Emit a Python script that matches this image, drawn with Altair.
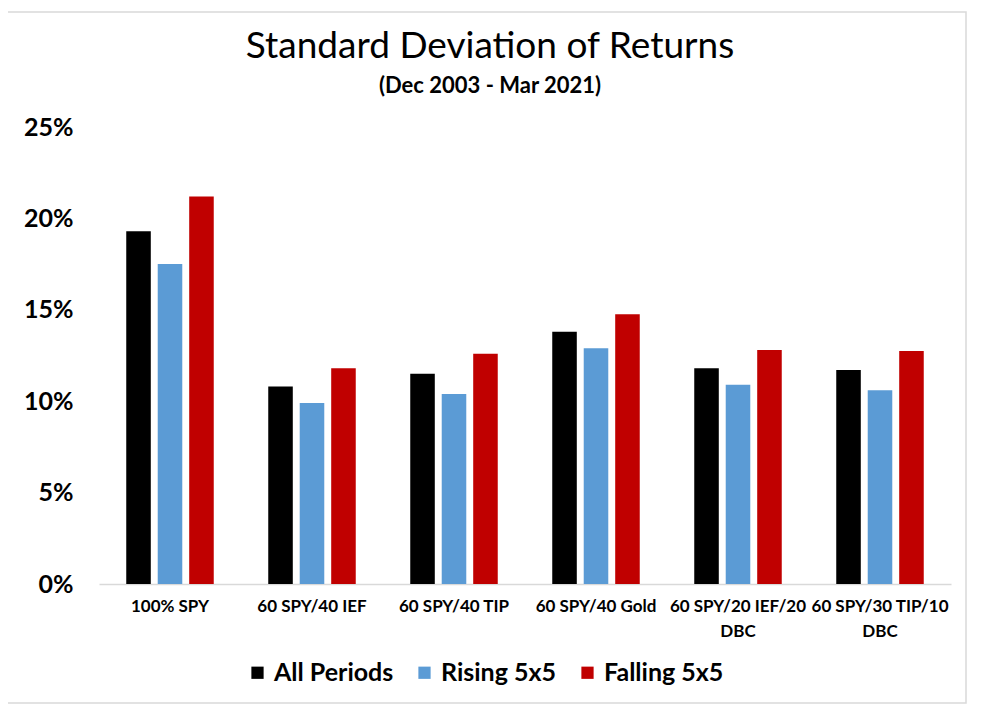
import altair as alt
import pandas as pd

categories = ["100% SPY", "60 SPY/40 IEF", "60 SPY/40 TIP", "60 SPY/40 Gold",
              "60 SPY/20 IEF/20 DBC", "60 SPY/30 TIP/10 DBC"]
series = ["All Periods", "Rising 5x5", "Falling 5x5"]
all_periods = [19.3, 10.8, 11.5, 13.8, 11.8, 11.7]
rising = [17.5, 9.9, 10.4, 12.9, 10.9, 10.6]
falling = [21.2, 11.8, 12.6, 14.75, 12.8, 12.75]
colors = ["#000000", "#5B9BD5", "#C00000"]
y_ticks = [0, 5, 10, 15, 20, 25]

rows = []
for name, vals in zip(series, [all_periods, rising, falling]):
    for c, v in zip(categories, vals):
        rows.append({"category": c, "series": name, "value": v})
df = pd.DataFrame(rows)

FONT = "Lato"

bars = alt.Chart(df).mark_bar().encode(
    x=alt.X("category:N", sort=categories,
            scale=alt.Scale(paddingInner=0.335, paddingOuter=0.1675),
            axis=alt.Axis(title=None, labelAngle=0, ticks=False, domain=True,
                          domainColor="#D9D9D9", domainWidth=1.5,
                          labelPadding=14, labelFontSize=17, labelFontWeight="bold",
                          labelFont=FONT, labelColor="#000000", labelLineHeight=25,
                          labelLimit=200,
                          labelExpr="indexof(datum.label, '/20 DBC') > 0 ? ['60 SPY/20 IEF/20', 'DBC'] : (indexof(datum.label, '/10 DBC') > 0 ? ['60 SPY/30 TIP/10', 'DBC'] : datum.label)")),
    xOffset=alt.XOffset("series:N", sort=series,
                        scale=alt.Scale(paddingInner=0.22, paddingOuter=0.11)),
    y=alt.Y("value:Q", scale=alt.Scale(domain=[0, 25], nice=False),
            axis=alt.Axis(title=None, values=y_ticks, grid=False, ticks=False,
                          domain=False, labelPadding=26, labelFontSize=25,
                          labelFontWeight="bold", labelFont=FONT,
                          labelColor="#000000",
                          labelExpr="datum.value + '%'")),
    color=alt.Color("series:N", sort=series,
                    scale=alt.Scale(domain=series, range=colors),
                    legend=alt.Legend(title=None, orient="none", direction="horizontal",
                                      legendX=146, legendY=533,
                                      symbolType="square", symbolSize=150,
                                      symbolStrokeWidth=0,
                                      labelFontSize=25, labelFontWeight="bold",
                                      labelFont=FONT, labelColor="#000000",
                                      columnPadding=18, labelOffset=4)),
)

frame = alt.Chart(pd.DataFrame({"f": [0]})).mark_rect(
    fill=None, stroke="#D9D9D9", strokeWidth=1.5
).encode(x=alt.value(-92), x2=alt.value(867), y=alt.value(-115), y2=alt.value(576))

chart = alt.layer(frame, bars).properties(
    width=852, height=457,
    padding={"left": 91, "top": 119, "right": 22, "bottom": 122},
    autosize=alt.AutoSizeParams(type="none"),
    background="white",
    title=alt.TitleParams(
        text="Standard Deviation of Returns",
        subtitle="(Dec 2003 - Mar 2021)",
        anchor="middle", dx=-35, offset=-87,
        font=FONT, fontSize=37, fontWeight="normal", color="#000000",
        subtitleFont=FONT, subtitleFontSize=22, subtitleFontWeight="bold",
        subtitleColor="#000000", subtitlePadding=10,
    ),
).configure_view(stroke="transparent", strokeWidth=0)

chart.save("out.html", embed_options={"renderer": "svg", "actions": False})
